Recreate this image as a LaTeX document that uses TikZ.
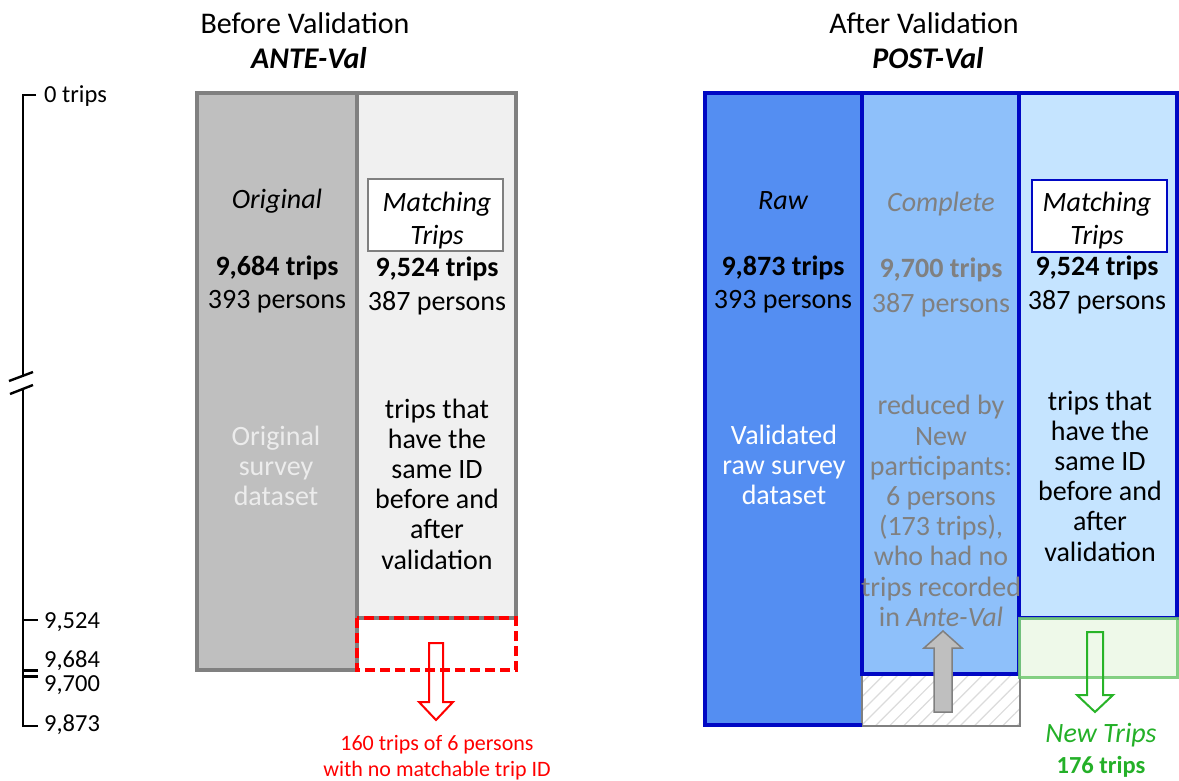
\documentclass[tikz,border=0pt]{standalone}
\usepackage{fontspec}
\setmainfont{Carlito}
\usetikzlibrary{patterns.meta}
\definecolor{borderGray}{RGB}{128,128,128}
\definecolor{colGray}{RGB}{191,191,191}
\definecolor{colLight}{RGB}{240,240,240}
\definecolor{blueBorder}{RGB}{0,8,196}
\definecolor{rawFill}{RGB}{84,142,242}
\definecolor{compFill}{RGB}{142,192,250}
\definecolor{matchFill}{RGB}{197,228,255}
\definecolor{greenLine}{RGB}{110,200,110}
\definecolor{greenFill}{RGB}{226,245,218}
\definecolor{greenText}{RGB}{36,176,40}
\definecolor{greenArrow}{RGB}{40,180,40}
\definecolor{redC}{RGB}{255,0,0}
\definecolor{softWhite}{RGB}{236,236,236}
\definecolor{textGray}{RGB}{128,128,128}
\newcommand\bodyf{\fontsize{28}{30.2}\selectfont}
\newcommand\titlef{\fontsize{30}{34}\selectfont}
\newcommand\smallf{\fontsize{22}{26}\selectfont}
\newcommand\axisf{\fontsize{24.5}{26}\selectfont}
\newcommand\boldnf{\fontsize{24.5}{26}\selectfont}
\begin{document}
\begin{tikzpicture}[x=1pt,y=-1pt,
  lbl/.style={inner sep=0pt, align=center, font=\bodyf},
  axisline/.style={line width=2.8pt, black},
  axislbl/.style={inner sep=0pt, anchor=base west, font=\axisf},
  grayframe/.style={draw=borderGray, line width=4pt},
  blueframe/.style={draw=blueBorder, line width=4.5pt},
  mbox/.style={draw, line width=2pt, fill=white, minimum width=135pt, minimum height=72pt, inner sep=0pt},
  mtext/.style={inner sep=0pt, align=center, font=\fontsize{28}{33}\selectfont\itshape}
]
\useasboundingbox (0,0) rectangle (1179,781);

% ---------- titles
\node[lbl, font=\titlef] (t1) at (305,23) {Before Validation};
\node[lbl, font=\titlef\bfseries\itshape] (t1b) at (309,58) {ANTE-Val};
\node[lbl, font=\titlef] (t2) at (924,23) {After Validation};
\node[lbl, font=\titlef\bfseries\itshape] (t2b) at (928,58) {POST-Val};

% ---------- axis
\draw[axisline] (36,95) -- (23,95) -- (23,375);
\draw[axisline] (23,388) -- (23,726) -- (38,726);
\draw[axisline] (23,620) -- (38,620);
\draw[axisline, line width=2.4pt] (23,670.5) -- (38,670.5);
\draw[axisline, line width=2.4pt] (23,676.5) -- (38,676.5);
\draw[line width=2.4pt] (9,381) -- (33,372);
\draw[line width=2.4pt] (10,394) -- (33,385);
\node[axislbl] (a0) at (44,103) {0 trips};
\node[axislbl] (a1) at (44,628) {9,524};
\node[axislbl] (a2) at (44,667) {9,684};
\node[axislbl] (a3) at (44,691) {9,700};
\node[axislbl] (a4) at (44,731) {9,873};

% ---------- ANTE-Val panel
\fill[colGray] (197,93) rectangle (357,670);
\fill[colLight] (357,93) rectangle (516,618);
\draw[grayframe, line join=miter] (357,618) -- (516,618) -- (516,93) -- (197,93) -- (197,670) -- (357,670);
\draw[grayframe] (357,93) -- (357,670);
\draw[redC, line width=3.2pt, dash pattern=on 10pt off 5pt] (357,618) rectangle (516,670);

\node[lbl, font=\bodyf\itshape] (orig) at (277,201) {Original};
\node[lbl, font=\bodyf\bfseries] (orign) at (277,268) {9,684 trips};
\node[lbl] (origp) at (277,302) {393 persons};
\node[lbl, text=softWhite] (origd) at (276,466) {Original\\survey\\dataset};

\node[mbox, draw=borderGray] (mb1) at (435.5,215) {};
\node[mtext] (mb1t) at (437,220.5) {Matching\\Trips};
\node[lbl, font=\bodyf\bfseries] (m1n) at (437,269) {9,524 trips};
\node[lbl] (m1p) at (437,303) {387 persons};
\node[lbl] (m1d) at (437,484) {trips that\\have the\\same ID\\before and\\after\\validation};

\draw[redC, line width=2pt, line join=miter] (429,643) -- (443,643) -- (443,702) -- (453,702) -- (436,720) -- (419,702) -- (429,702) -- cycle;
\node[lbl, font=\smallf, text=redC] (redtxt) at (437,758) {160 trips of 6 persons\\with no matchable trip ID};

% ---------- POST-Val panel
\fill[rawFill] (705,93) rectangle (862,725);
\fill[compFill] (862,93) rectangle (1019,674);
\fill[matchFill] (1019,93) rectangle (1177,618);
\fill[white] (862,674) rectangle (1020,726);
\fill[pattern={Lines[angle=45,distance=10pt,line width=1.2pt]}, pattern color=black!14] (862,674) rectangle (1020,726);
\draw[borderGray, line width=1.8pt] (862,674) rectangle (1020,726);

\draw[blueframe, line join=miter] (862,725) -- (705,725) -- (705,93) -- (1177,93) -- (1177,618) -- (1019,618);
\draw[blueframe] (862,93) -- (862,674) -- (1019,674) -- (1019,93);

\draw[draw=greenLine, draw opacity=0.85, fill=greenFill, fill opacity=0.6, line width=3pt] (1019,618) rectangle (1177,677);

\node[lbl, font=\bodyf\itshape] (raw) at (783,201) {Raw};
\node[lbl, font=\bodyf\bfseries] (rawn) at (783,268) {9,873 trips};
\node[lbl] (rawp) at (783,302) {393 persons};
\node[lbl, text=white] (rawd) at (784,465) {Validated\\raw survey\\dataset};

\node[lbl, font=\bodyf\itshape, text=textGray] (comp) at (941,204) {Complete};
\node[lbl, font=\bodyf\bfseries, text=textGray] (compn) at (941,270) {9,700 trips};
\node[lbl, text=textGray] (compp) at (941,305) {387 persons};
\node[lbl, text=textGray] (compd) at (941,511) {reduced by\\New\\participants:\\6 persons\\(173 trips),\\who had no\\trips recorded\\in \textit{Ante-Val}};

\node[mbox, draw=blueBorder] (mb2) at (1099,216) {};
\node[mtext] (mb2t) at (1097,221) {Matching\\Trips};
\node[lbl, font=\bodyf\bfseries] (m2n) at (1097,268) {9,524 trips};
\node[lbl] (m2p) at (1097,302) {387 persons};
\node[lbl] (m2d) at (1100,476) {trips that\\have the\\same ID\\before and\\after\\validation};

\draw[borderGray, fill=colGray, line width=1.5pt, line join=miter] (934,712) -- (952,712) -- (952,648) -- (962,648) -- (943,631) -- (924,648) -- (934,648) -- cycle;
\draw[greenArrow, line width=2pt, line join=miter] (1087,632) -- (1103,632) -- (1103,695) -- (1113,695) -- (1095,712) -- (1077,695) -- (1087,695) -- cycle;

\node[lbl, font=\bodyf\itshape, text=greenText] (newt) at (1101,735) {New Trips};
\node[lbl, font=\boldnf\bfseries, text=greenText] (newn) at (1101,767) {176 trips};
\end{tikzpicture}
\end{document}
